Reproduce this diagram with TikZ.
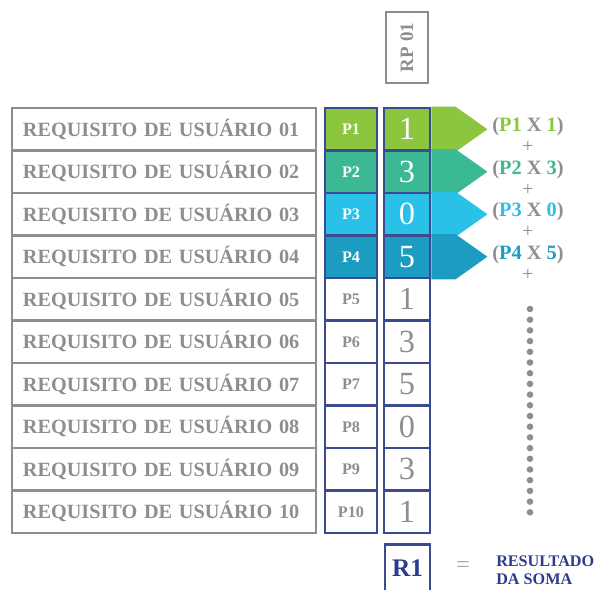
\documentclass[tikz,border=0pt]{standalone}
\usepackage{fontspec}
\setmainfont{Liberation Serif}
\usetikzlibrary{positioning}

\definecolor{cinza}{HTML}{8E8E8E}
\definecolor{marinho}{HTML}{3C4A8E}
\definecolor{tinta}{HTML}{2E3A8C}
\definecolor{verde}{HTML}{8CC63E}
\definecolor{turquesa}{HTML}{3BB894}
\definecolor{ciano}{HTML}{29C1E8}
\definecolor{azul}{HTML}{1B9CC0}

\tikzset{
  reqbox/.style={draw=cinza, line width=2pt, minimum width=7.6cm, minimum height=1.0625cm,
    text width=7.05cm, inner xsep=0.275cm, align=left, text=cinza,
    font=\bfseries\fontsize{14.4}{14.4}\selectfont},
  pbox/.style={draw=marinho, line width=2pt, minimum width=1.3cm, minimum height=1.0625cm,
    inner sep=0pt, font=\bfseries\fontsize{11.5}{12}\selectfont},
  numbox/.style={draw=marinho, line width=2pt, minimum width=1.15cm, minimum height=1.0625cm,
    inner sep=0pt, font=\fontsize{23}{23}\selectfont},
  conta/.style={text=cinza, font=\bfseries\fontsize{14.5}{14.5}\selectfont, inner sep=0pt},
  mais/.style={text=cinza, font=\fontsize{14}{14}\selectfont, inner sep=0pt}
}

\begin{document}
\begin{tikzpicture}[x=0.025cm, y=-0.025cm]
  \useasboundingbox (0,0) rectangle (598,590);

  % cabecalho da coluna
  \node[draw=cinza, line width=2pt, minimum width=1.05cm, minimum height=1.775cm, inner sep=0pt]
    (rp) at (407,47.5) {\rotatebox{90}{\textcolor{cinza}{\bfseries\fontsize{13.5}{13.5}\selectfont RP 01}}};

  % linhas: requisito, peso e valor
  \foreach \i/\rot/\val/\fundo/\letra in {1/01/1/verde/white, 2/02/3/turquesa/white,
      3/03/0/ciano/white, 4/04/5/azul/white, 5/05/1/white/cinza, 6/06/3/white/cinza,
      7/07/5/white/cinza, 8/08/0/white/cinza, 9/09/3/white/cinza, 10/10/1/white/cinza} {
    \node[reqbox] (req\i) at (164,{129.25+42.5*(\i-1)}) {REQUISITO DE USUÁRIO \rot};
    \node[pbox, fill=\fundo, text=\letra] (p\i) at (351,{129.25+42.5*(\i-1)}) {P\i};
    \node[numbox, fill=\fundo, text=\letra] (n\i) at (407,{129.25+42.5*(\i-1)}) {\val};
  }

  % setas e produtos
  \foreach \i/\val/\cor in {1/1/verde, 2/3/turquesa, 3/0/ciano, 4/5/azul} {
    \fill[\cor] (n\i.north east) -- ([xshift=0.6cm]n\i.north east)
      -- ([xshift=1.4cm]n\i.east) -- ([xshift=0.6cm]n\i.south east)
      -- (n\i.south east) -- cycle;
    \node[conta] (e\i) at (528,{127+42.5*(\i-1)}) {(\textcolor{\cor}{P\i} X \textcolor{\cor}{\val})};
    \node[mais] (m\i) at (528,{147+42.5*(\i-1)}) {+};
  }

  % reticencias
  \foreach \k in {0,...,19}
    \fill[cinza] (530,{309+10.7*\k}) circle[radius=0.082cm];

  % resultado
  \node[draw=marinho, line width=1.5pt, minimum width=1.125cm, minimum height=1.175cm, inner sep=0pt,
    text=tinta, font=\bfseries\fontsize{18}{18}\selectfont] (r1) at (407.5,568) {R1};
  \node[text=cinza!80, font=\fontsize{17}{17}\selectfont] (igual) at (463,567) {=};
  \node[anchor=west, align=left, text=tinta, inner sep=0pt,
    font=\bfseries\fontsize{11.5}{13}\selectfont] (soma) at (496,570) {RESULTADO\\DA SOMA};
\end{tikzpicture}
\end{document}
